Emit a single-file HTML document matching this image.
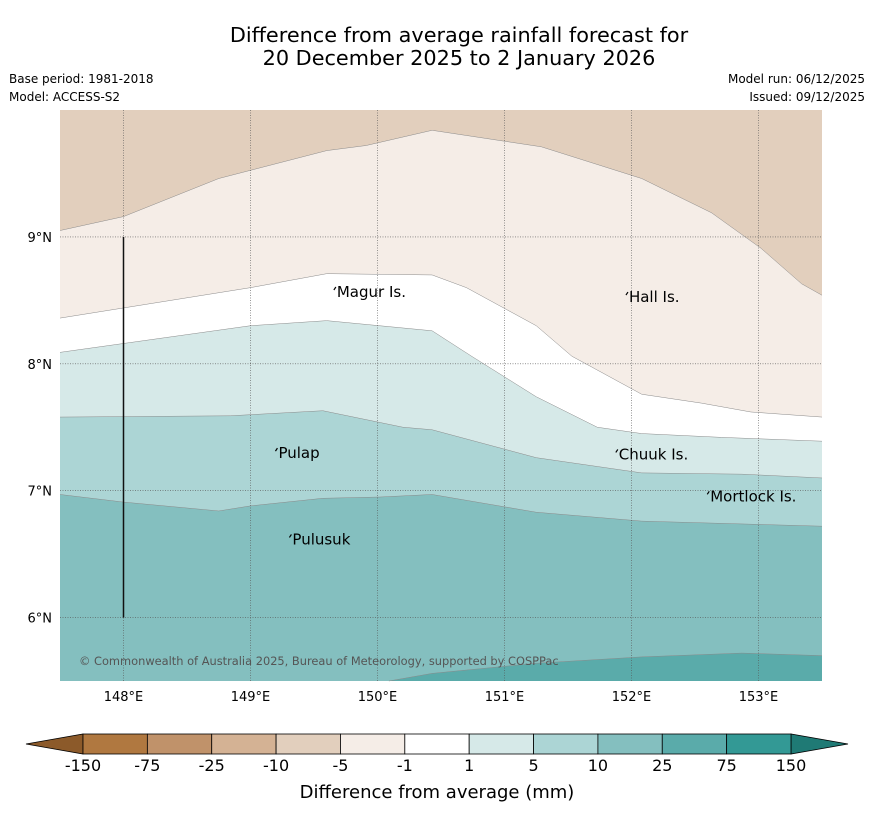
<!DOCTYPE html>
<html><head><meta charset="utf-8"><style>
body{margin:0;background:#fff;font-family:"Liberation Sans","DejaVu Sans",sans-serif;}
svg{display:block}
</style></head><body>
<svg id="c" width="873" height="816" xmlns="http://www.w3.org/2000/svg" font-family="DejaVu Sans, Liberation Sans, sans-serif">
<text x="459" y="42" text-anchor="middle" font-size="20.8">Difference from average rainfall forecast for</text>
<text x="459" y="65" text-anchor="middle" font-size="20.8">20 December 2025 to 2 January 2026</text>
<text x="9" y="83" font-size="12">Base period: 1981-2018</text>
<text x="9" y="101" font-size="12">Model: ACCESS-S2</text>
<text x="865" y="83" font-size="12" text-anchor="end">Model run: 06/12/2025</text>
<text x="865" y="101" font-size="12" text-anchor="end">Issued: 09/12/2025</text>
<g id="map"></g>
<g id="cb"></g>
<text x="437" y="798" text-anchor="middle" font-size="18">Difference from average (mm)</text>
</svg>
<script>
const lonTicks=[148,149,150,151,152,153];
const latTicks=[6,7,8,9];
const levelColors=["#e2cfbd","#f5ede7","#ffffff","#d6e9e8","#acd5d5","#84bfbf","#5aabaa"];
// contour boundaries as [lon,lat]
const bA=[[147.5,9.05],[148,9.16],[148.75,9.46],[149.6,9.68],[149.91,9.72],[150.43,9.84],[151.29,9.71],[152.08,9.46],[152.63,9.19],[153.02,8.91],[153.34,8.63],[153.5,8.54]];
const bB=[[147.5,8.36],[148,8.44],[149,8.6],[149.6,8.71],[150.43,8.7],[150.7,8.6],[151.25,8.3],[151.53,8.06],[152.08,7.76],[152.55,7.69],[152.94,7.62],[153.5,7.58]];
const bC=[[147.5,8.09],[148,8.16],[149,8.3],[149.6,8.34],[150.43,8.26],[150.74,8.06],[151.25,7.74],[151.73,7.5],[152.08,7.45],[152.71,7.42],[153.5,7.39]];
const bD=[[147.5,7.58],[148.84,7.59],[149.57,7.63],[150.2,7.5],[150.43,7.48],[151.25,7.26],[152.08,7.14],[152.87,7.13],[153.5,7.1]];
const bE=[[147.5,6.97],[148,6.91],[148.75,6.84],[149,6.88],[149.57,6.94],[150.02,6.95],[150.43,6.97],[151.25,6.83],[152.08,6.76],[153.5,6.72]];
const bF=[[150.09,5.5],[150.43,5.56],[151.25,5.64],[152.08,5.69],[152.87,5.72],[153.5,5.7]];
const boundaries=[bA,bB,bC,bD,bE,bF];
const places=[["Magur Is.",149.68,8.55],["Hall Is.",151.98,8.51],["Pulap",149.22,7.28],["Chuuk Is.",151.9,7.27],["Mortlock Is.",152.62,6.94],["Pulusuk",149.33,6.6]];
const cbTicks=["-150","-75","-25","-10","-5","-1","1","5","10","25","75","150"];
const cbColors=["#b07840","#c0926a","#d4b294","#e2cfbd","#f5ede7","#ffffff","#d6e9e8","#acd5d5","#84bfbf","#5aabaa","#339995"];
const NS="http://www.w3.org/2000/svg";
const L=60,R=822,T=110,B=681,lon0=147.5,lon1=153.5,lat0=5.5,lat1=10;
const X=v=>L+(v-lon0)/(lon1-lon0)*(R-L);
const Y=v=>B-(v-lat0)/(lat1-lat0)*(B-T);
function mk(t,a,p){const e=document.createElementNS(NS,t);for(const k in a)e.setAttribute(k,a[k]);p.appendChild(e);return e;}
const map=document.getElementById('map');
const bg=mk('rect',{x:L,y:T,width:R-L,height:B-T,fill:levelColors[0]},map);


boundaries.forEach((b,i)=>{
 let d='M'+b.map(p=>X(p[0]).toFixed(1)+','+Y(p[1]).toFixed(1)).join('L');
 const last=b[b.length-1],first=b[0];
 d+='L'+X(last[0])+','+B+'L'+X(first[0])+','+B+'Z';
 const p=mk('path',{d:d,fill:levelColors[i+1]},map);
 
 
 const ln=mk('polyline',{points:b.map(q=>X(q[0])+','+Y(q[1])).join(' '),fill:'none',stroke:'#8a8a8a','stroke-width':0.5},map);
 
 
});
lonTicks.forEach(v=>{
 const g=mk('line',{x1:X(v),x2:X(v),y1:T,y2:B,stroke:'#555','stroke-width':0.6,'stroke-dasharray':'1,1.5'},map);
 
 
 const t=mk('text',{x:X(v),y:701,'text-anchor':'middle','font-size':13},map);t.textContent=v+'°E';
 
 
});
latTicks.forEach(v=>{
 const g=mk('line',{x1:L,x2:R,y1:Y(v),y2:Y(v),stroke:'#555','stroke-width':0.6,'stroke-dasharray':'1,1.5'},map);
 
 
 const t=mk('text',{x:52,y:Y(v)+5,'text-anchor':'end','font-size':13},map);t.textContent=v+'°N';
 
 
});
const vl=mk('line',{x1:X(148),x2:X(148),y1:Y(9),y2:Y(6),stroke:'#111','stroke-width':1.5},map);


places.forEach(p=>{
 const m=mk('path',{d:`M${X(p[1])-3},${Y(p[2])-4} l2,-3`,stroke:'#000','stroke-width':1.2,fill:'none'},map);
 
 
 const t=mk('text',{x:X(p[1]),y:Y(p[2])+3,'font-size':15},map);t.textContent=p[0];
 
 
});
const cp=mk('text',{x:79,y:665,'font-size':11.4,fill:'#555'},map);cp.textContent='© Commonwealth of Australia 2025, Bureau of Meteorology, supported by COSPPac';


const cb=document.getElementById('cb');
const cx0=83,cx1=791,cy0=734,cy1=754,w=(cx1-cx0)/cbColors.length;
const le=mk('polygon',{points:`26,744 ${cx0},${cy0} ${cx0},${cy1}`,fill:'#8c5a2a',stroke:'#000','stroke-width':0.8},cb);


const re=mk('polygon',{points:`848,744 ${cx1},${cy0} ${cx1},${cy1}`,fill:'#1f7a75',stroke:'#000','stroke-width':0.8},cb);


cbColors.forEach((c,i)=>{
 const r=mk('rect',{x:cx0+i*w,y:cy0,width:w,height:cy1-cy0,fill:c,stroke:'#000','stroke-width':0.8},cb);
 
 
});
cbTicks.forEach((s,i)=>{
 const t=mk('text',{x:cx0+i*w,y:771,'text-anchor':'middle','font-size':16},cb);t.textContent=s;
 
 
});
</script>
</body></html>
